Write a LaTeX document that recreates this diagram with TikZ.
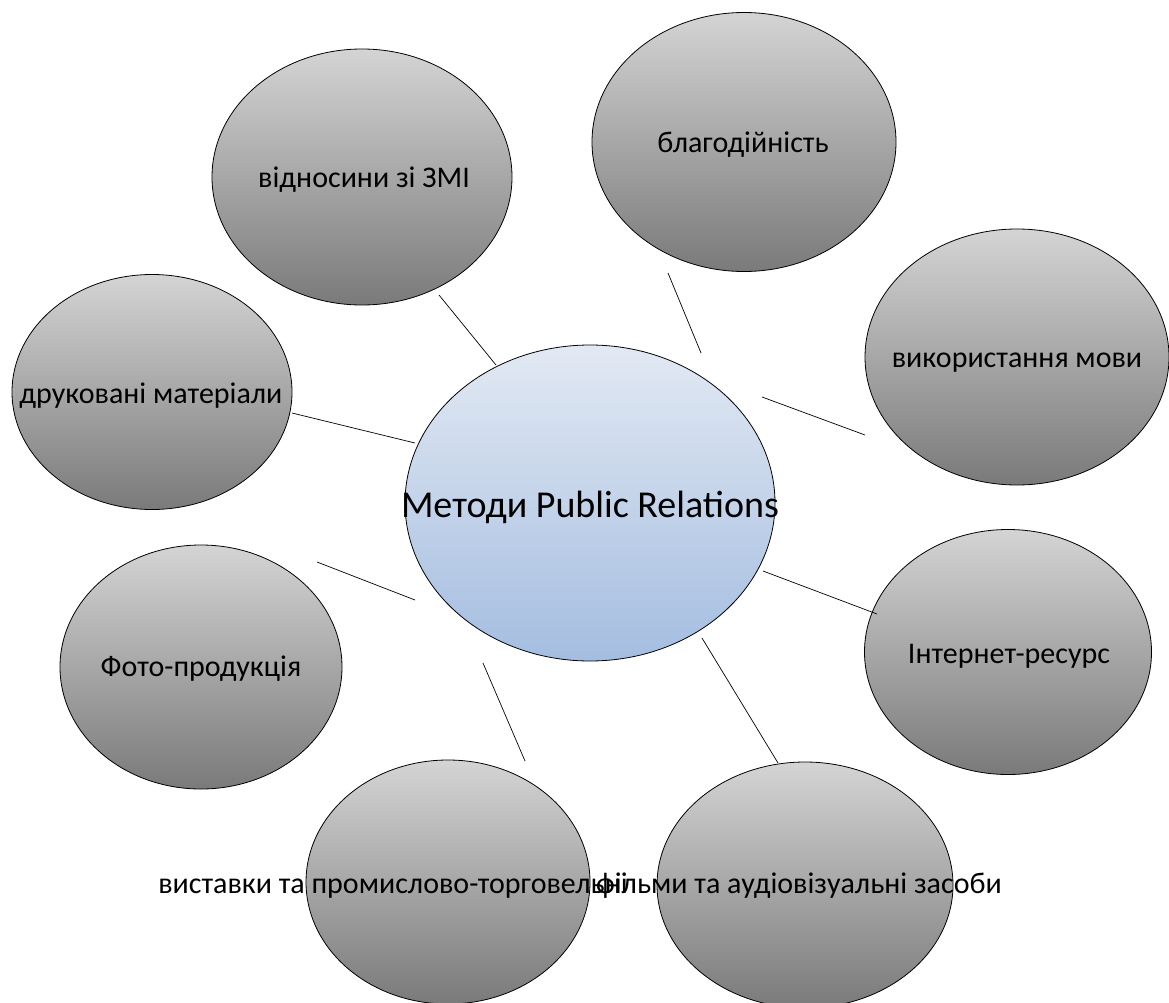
\documentclass[tikz,border=0pt]{standalone}
\usepackage{fontspec}
\setmainfont{Carlito}
\usetikzlibrary{shapes.geometric}
\definecolor{gtop}{RGB}{212,212,212}
\definecolor{gbot}{RGB}{122,122,122}
\definecolor{btop}{RGB}{226,233,243}
\definecolor{bbot}{RGB}{164,189,224}
\begin{document}
\begin{tikzpicture}[x=1pt,y=-1pt,
  bub/.style={ellipse, draw=black, line width=0.8pt, inner sep=0pt, top color=gtop, bottom color=gbot},
  hub/.style={ellipse, draw=black, line width=0.8pt, inner sep=0pt, top color=btop, bottom color=bbot},
  lbl/.style={anchor=base, font=\fontsize{30}{36}\selectfont, inner sep=0pt},
  conn/.style={draw=black, line width=0.7pt}]
\useasboundingbox (0,0) rectangle (1169,1003);
% hub
\node[hub, minimum width=370pt, minimum height=316pt] (center) at (590,503) {};
% outer bubbles
\node[bub, minimum width=300pt, minimum height=256pt] (zmi) at (362,177) {};
\node[bub, minimum width=304pt, minimum height=259pt] (blago) at (744,142) {};
\node[bub, minimum width=304pt, minimum height=256pt] (mova) at (1017,357) {};
\node[bub, minimum width=280pt, minimum height=235pt] (druk) at (152,392) {};
\node[bub, minimum width=282pt, minimum height=244pt] (foto) at (201,667) {};
\node[bub, minimum width=287pt, minimum height=245pt] (inet) at (1008,652) {};
\node[bub, minimum width=284pt, minimum height=244pt] (vyst) at (448,882) {};
\node[bub, minimum width=296pt, minimum height=246pt] (film) at (805,885) {};
% connector end points
\coordinate (a1) at (496,365); \coordinate (b1) at (439,295);
\coordinate (a2) at (701,353); \coordinate (b2) at (668,273);
\coordinate (a3) at (762,397); \coordinate (b3) at (865,435);
\coordinate (a4) at (415,443); \coordinate (b4) at (292,413);
\coordinate (a5) at (415,600); \coordinate (b5) at (317,562);
\coordinate (a6) at (763,571); \coordinate (b6) at (877,614);
\coordinate (a7) at (483,663); \coordinate (b7) at (525,761);
\coordinate (a8) at (702,638); \coordinate (b8) at (778,763);
\draw[conn] (a1) -- (b1);
\draw[conn] (a2) -- (b2);
\draw[conn] (a3) -- (b3);
\draw[conn] (a4) -- (b4);
\draw[conn] (a5) -- (b5);
\draw[conn] (a6) -- (b6);
\draw[conn] (a7) -- (b7);
\draw[conn] (a8) -- (b8);
% labels
\node[lbl, font=\fontsize{38}{45}\selectfont] (tcenter) at (590,517) {Методи Public Relations};
\node[lbl] (tzmi) at (364,188) {відносини зі ЗМІ};
\node[lbl] (tblago) at (743,153) {благодійність};
\node[lbl] (tmova) at (1017,367) {використання мови};
\node[lbl] (tdruk) at (151,403) {друковані матеріали};
\node[lbl] (tfoto) at (201,676) {Фото-продукція};
\node[lbl] (tinet) at (1009,663) {Інтернет-ресурс};
\node[lbl] (tvyst) at (393,893) {виставки та промислово-торговельні};
\node[lbl] (tfilm) at (799,893) {фільми та аудіовізуальні засоби};
\end{tikzpicture}
\end{document}
